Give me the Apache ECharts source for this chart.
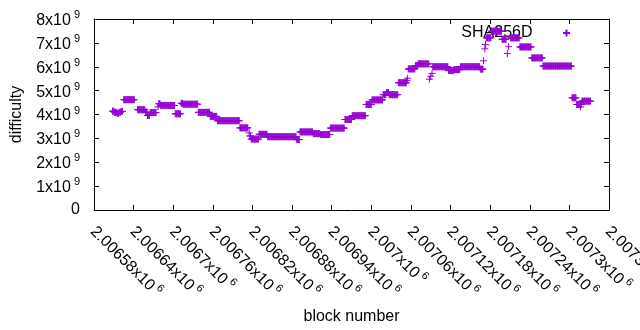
<!DOCTYPE html>
<html>
<head>
<meta charset="utf-8">
<title>SHA256D difficulty</title>
<script src="https://cdn.jsdelivr.net/npm/echarts@6/dist/echarts.min.js"></script>
<style>
  html, body { margin: 0; padding: 0; background: #fff; }
  #chart { width: 640px; height: 330px; }
</style>
</head>
<body>
<div id="chart"></div>
<script>
// difficulty runs: every block from runStart[i] to runEnd[i] has runDifficulty[i] (x10^9)
const runStart = [
  2006608, 2006611, 2006615, 2006618, 2006621, 2006625, 2006646, 2006658, 2006661, 2006665,
  2006677, 2006678, 2006681, 2006703, 2006712, 2006715, 2006738, 2006756, 2006767, 2006801,
  2006815, 2006816, 2006818, 2006830, 2006843, 2006887, 2006892, 2006912, 2006923, 2006938,
  2006960, 2006971, 2006992, 2007001, 2007018, 2007023, 2007027, 2007041, 2007054, 2007055,
  2007056, 2007067, 2007071, 2007088, 2007090, 2007092, 2007093, 2007117, 2007125, 2007135,
  2007165, 2007170, 2007172, 2007173, 2007174, 2007182, 2007198, 2007206, 2007208, 2007211,
  2007225, 2007243, 2007260, 2007304, 2007311, 2007317, 2007319
];
const runEnd = [
  2006610, 2006614, 2006617, 2006620, 2006623, 2006641, 2006657, 2006660, 2006664, 2006674,
  2006677, 2006680, 2006702, 2006711, 2006714, 2006737, 2006755, 2006766, 2006800, 2006813,
  2006815, 2006817, 2006829, 2006842, 2006886, 2006891, 2006911, 2006922, 2006937, 2006959,
  2006970, 2006991, 2007000, 2007017, 2007022, 2007026, 2007040, 2007053, 2007054, 2007055,
  2007066, 2007070, 2007087, 2007088, 2007090, 2007092, 2007116, 2007124, 2007134, 2007164,
  2007169, 2007170, 2007172, 2007173, 2007181, 2007197, 2007204, 2007206, 2007208, 2007224,
  2007242, 2007259, 2007303, 2007310, 2007318, 2007317, 2007332
];
const runDifficulty = [
  4.14, 4.09, 4.05, 4.09, 4.13, 4.62, 4.20, 4.10, 3.96, 4.08,
  4.32, 4.45, 4.38, 4.03, 4.47, 4.43, 4.09, 3.92, 3.74, 3.44,
  3.23, 3.10, 2.97, 3.17, 3.07, 2.95, 3.27, 3.20, 3.16, 3.43,
  3.79, 3.95, 4.42, 4.61, 4.83, 4.92, 4.83, 5.33, 5.42, 5.52,
  5.91, 6.05, 6.12, 5.48, 5.60, 5.72, 6.00, 5.84, 5.88, 6.00,
  5.90, 6.25, 6.75, 6.93, 7.21, 7.49, 7.15, 6.55, 6.84, 7.21,
  6.83, 6.37, 6.03, 4.70, 4.42, 4.32, 4.56
];

const xMin = 2006580;
const xMax = 2007360;
const xStep = 60;
const yMin = 0;
const yMax = 8e9;
const yStep = 1e9;

const FONT = "Liberation Sans";
const PURPLE = "#9400d3";

const points = [];
runStart.forEach((start, i) => {
  for (let b = start; b <= runEnd[i]; b++) {
    points.push([b, runDifficulty[i] * 1e9]);
  }
});

// gnuplot style "2x10^9" labels
function sciLabel(v, scale, exp) {
  if (v === 0) return "0";
  const m = Number((v / scale).toFixed(5));
  return "{b|" + m + "x10}{s|" + exp + "}";
}

const rich = {
  b: { fontSize: 16, fontFamily: FONT, color: "#000", lineHeight: 19, verticalAlign: "bottom" },
  s: { fontSize: 11, fontFamily: FONT, color: "#000", lineHeight: 11, verticalAlign: "top", padding: [0, 0, 0, 3] }
};

const frameLine = { show: true, onZero: false, lineStyle: { color: "#000", width: 1 } };
const innerTick = { show: true, inside: true, length: 5, lineStyle: { color: "#000", width: 1 } };

const chart = echarts.init(document.getElementById("chart"));
chart.setOption({
  animation: false,
  grid: { left: 94, right: 31, top: 19, bottom: 120, containLabel: false, outerBoundsMode: "none" },
  legend: {
    data: ["SHA256D"],
    right: 64,
    top: 20,
    align: "right",
    itemWidth: 58,
    itemHeight: 7,
    z: 1,
    textStyle: { fontSize: 16, fontFamily: FONT, color: "#000" }
  },
  xAxis: [
    {
      type: "value",
      position: "bottom",
      min: xMin,
      max: xMax,
      interval: xStep,
      axisLine: frameLine,
      axisTick: innerTick,
      splitLine: { show: false },
      axisLabel: {
        rotate: -45,
        margin: 18,
        color: "#000",
        fontSize: 16,
        fontFamily: FONT,
        formatter: v => sciLabel(v, 1e6, 6),
        rich: rich
      },
      name: "block number",
      nameLocation: "middle",
      nameGap: 99,
      nameTextStyle: { fontSize: 16, fontFamily: FONT, color: "#000" }
    },
    {
      type: "value",
      position: "top",
      min: xMin,
      max: xMax,
      interval: xStep,
      axisLine: frameLine,
      axisTick: innerTick,
      splitLine: { show: false },
      axisLabel: { show: false }
    }
  ],
  yAxis: [
    {
      type: "value",
      position: "left",
      min: yMin,
      max: yMax,
      interval: yStep,
      axisLine: frameLine,
      axisTick: innerTick,
      splitLine: { show: false },
      axisLabel: {
        margin: 14,
        color: "#000",
        fontSize: 16,
        fontFamily: FONT,
        formatter: v => sciLabel(v, 1e9, 9),
        rich: rich
      },
      name: "difficulty",
      nameLocation: "middle",
      nameGap: 69,
      nameTextStyle: { fontSize: 16, fontFamily: FONT, color: "#000" }
    },
    {
      type: "value",
      position: "right",
      min: yMin,
      max: yMax,
      interval: yStep,
      axisLine: frameLine,
      axisTick: innerTick,
      splitLine: { show: false },
      axisLabel: { show: false }
    }
  ],
  series: [
    {
      name: "SHA256D",
      type: "scatter",
      xAxisIndex: 0,
      yAxisIndex: 0,
      z: 2,
      data: points,
      symbol: "path://M0,4H8M4,0V8",
      symbolSize: 7,
      itemStyle: { color: PURPLE, borderColor: PURPLE, borderWidth: 1, opacity: 1 },
      emphasis: { disabled: true }
    }
  ]
});
</script>
</body>
</html>
